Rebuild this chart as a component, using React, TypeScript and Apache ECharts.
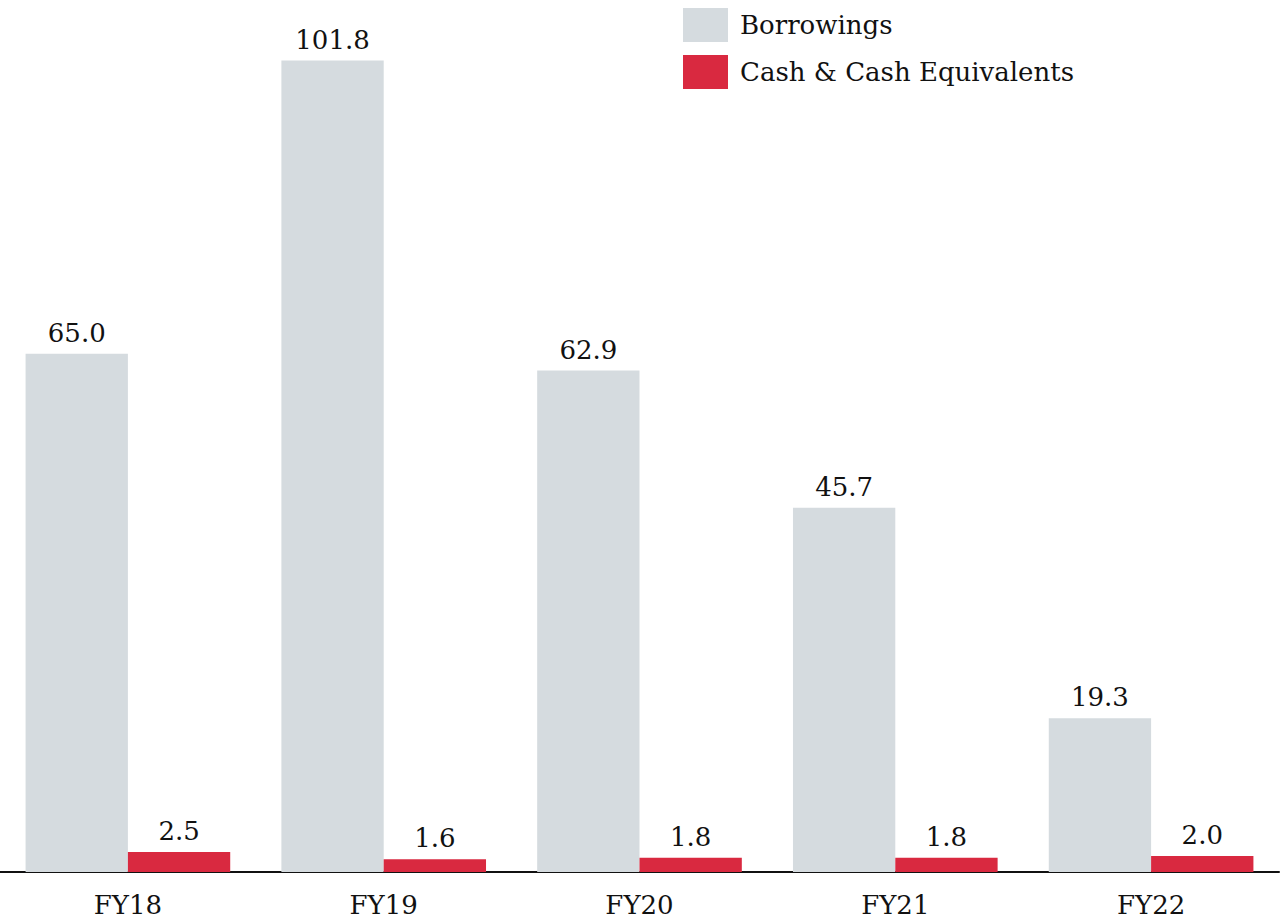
import React, { useEffect, useRef } from "react";
import * as echarts from "echarts";

const categories = ["FY18", "FY19", "FY20", "FY21", "FY22"];
const borrowings = [65.0, 101.8, 62.9, 45.7, 19.3];
const cashEquivalents = [2.5, 1.6, 1.8, 1.8, 2.0];
const seriesNames = ["Borrowings", "Cash & Cash Equivalents"];

const FONT = "DejaVu Serif";

export default function App() {
  const ref = useRef<HTMLDivElement>(null);
  useEffect(() => {
    if (!ref.current) return;
    const chart = echarts.init(ref.current, undefined, { renderer: "svg" });
    const label = {
      show: true,
      position: "top" as const,
      distance: 8,
      color: "#111",
      fontFamily: FONT,
      fontSize: 26,
      formatter: (p: any) => Number(p.value).toFixed(1),
    };
    chart.setOption({
      animation: false,
      backgroundColor: "#ffffff",
      textStyle: { fontFamily: FONT },
      legend: {
        orient: "vertical",
        left: 683,
        top: 8,
        padding: 0,
        itemWidth: 45,
        itemHeight: 34,
        itemGap: 13,
        icon: "rect",
        textStyle: { fontFamily: FONT, fontSize: 26, color: "#111", padding: [6, 0, 0, 7] },
        data: seriesNames,
      },
      grid: { left: 0, right: 2, top: 35, bottom: 51, containLabel: false },
      xAxis: {
        type: "category",
        data: categories,
        axisLine: { show: true, lineStyle: { color: "#111", width: 2 } },
        axisTick: { show: false },
        axisLabel: { color: "#111", fontFamily: FONT, fontSize: 26, margin: 20 },
      },
      yAxis: {
        type: "value",
        min: 0,
        max: 105,
        show: false,
        splitLine: { show: false },
      },
      series: [
        {
          name: seriesNames[0],
          type: "bar",
          data: borrowings,
          barGap: "0%",
          barCategoryGap: "20%",
          itemStyle: { color: "#d5dbdf" },
          label,
        },
        {
          name: seriesNames[1],
          type: "bar",
          data: cashEquivalents,
          barGap: "0%",
          barCategoryGap: "20%",
          itemStyle: { color: "#d92940" },
          label,
        },
      ],
    });
    return () => chart.dispose();
  }, []);
  return (
    <div
      ref={ref}
      style={{ position: "fixed", left: 0, top: 0, width: 1281, height: 923, background: "#fff" }}
    />
  );
}
